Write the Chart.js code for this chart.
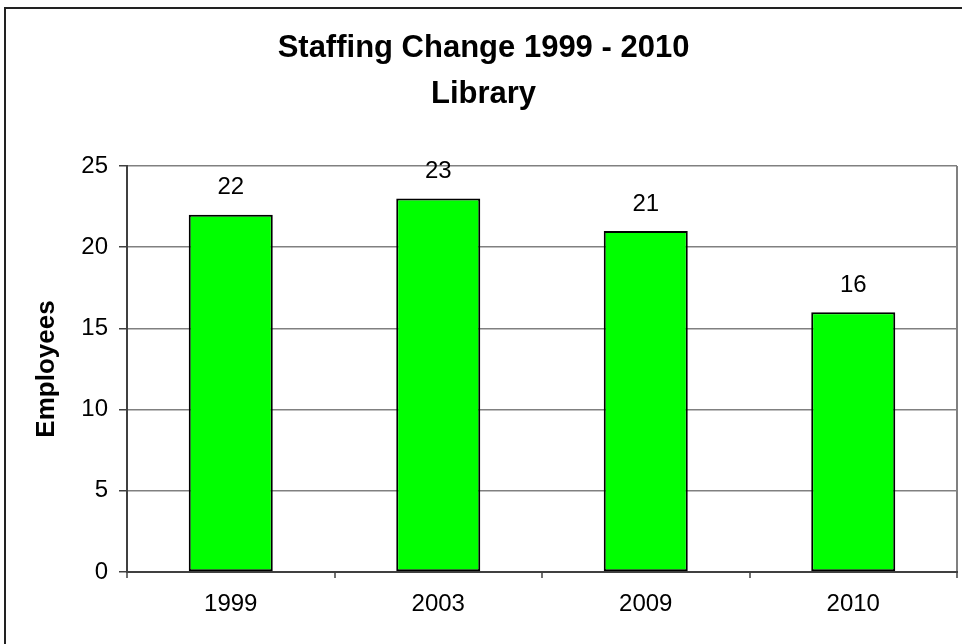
<!DOCTYPE html>
<html>
<head>
<meta charset="utf-8">
<script src="https://cdn.jsdelivr.net/npm/chart.js@4/dist/chart.umd.min.js"></script>
<style>
  html, body { margin: 0; padding: 0; background: #fff; }
  #wrap { width: 962px; height: 644px; position: relative; }
</style>
</head>
<body>
<div id="wrap"><canvas id="graficoEquipe"></canvas></div>
<script>
// anos e numero de funcionarios da biblioteca
var anos = ['1999', '2003', '2009', '2010'];
var funcionarios = [22, 23, 21, 16];
var titulo = ['Staffing Change 1999 - 2010', 'Library'];
var tituloEixoY = 'Employees';

var fonte = 'Arial, "Liberation Sans", sans-serif';
var cinza = '#808080';

// moldura em volta do grafico
var moldura = {
  id: 'moldura',
  beforeDraw: function (chart) {
    var ctx = chart.ctx;
    ctx.save();
    ctx.fillStyle = '#fff';
    ctx.fillRect(0, 0, chart.width, chart.height);
    ctx.strokeStyle = '#222';
    ctx.lineWidth = 2;
    ctx.strokeRect(5, 8, chart.width + 20, chart.height + 20);
    ctx.restore();
  }
};

// escreve o valor em cima de cada barra
var rotulos = {
  id: 'rotulos',
  afterDatasetsDraw: function (chart) {
    var ctx = chart.ctx;
    var meta = chart.getDatasetMeta(0);
    ctx.save();
    ctx.font = '24px ' + fonte;
    ctx.fillStyle = '#000';
    ctx.textAlign = 'center';
    ctx.textBaseline = 'middle';
    meta.data.forEach(function (barra, i) {
      ctx.fillText(String(funcionarios[i]), barra.x, barra.y - 27);
    });
    ctx.restore();
  }
};

var ctx = document.getElementById('graficoEquipe').getContext('2d');
var chart = new Chart(ctx, {
  type: 'bar',
  data: {
    labels: anos,
    datasets: [{
      label: tituloEixoY,
      data: funcionarios,
      backgroundColor: '#00ff00',
      borderColor: '#000',
      borderWidth: 2,
      borderSkipped: false,
      barPercentage: 0.405,
      categoryPercentage: 1
    }]
  },
  plugins: [moldura, rotulos],
  options: {
    responsive: true,
    maintainAspectRatio: false,
    animation: false,
    layout: { padding: { top: 0, left: 10, right: 5, bottom: 22 } },
    plugins: {
      legend: { display: false },
      tooltip: { enabled: false },
      title: {
        display: true,
        text: titulo,
        color: '#000',
        font: { family: fonte, size: 31, weight: 'bold', lineHeight: 1.5 },
        padding: { top: 25, bottom: 48 }
      }
    },
    scales: {
      x: {
        offset: true,
        afterFit: function (s) { s.height = 50; },
        grid: {
          offset: true,
          drawOnChartArea: true,
          color: function (c) { return c.type === 'tick' ? 'rgba(0,0,0,0)' : cinza; },
          lineWidth: 2,
          tickLength: 6,
          tickColor: '#404040',
          tickWidth: 1.5
        },
        border: { color: '#404040', width: 2 },
        ticks: {
          color: '#000',
          padding: 12,
          font: { family: fonte, size: 24 }
        }
      },
      y: {
        min: 0,
        max: 25,
        afterFit: function (s) { s.width = 117; },
        grid: {
          color: cinza,
          lineWidth: 1.5,
          tickLength: 8,
          tickColor: '#404040'
        },
        border: { color: '#404040', width: 2 },
        ticks: {
          stepSize: 5,
          color: '#000',
          padding: 11,
          font: { family: fonte, size: 24 }
        },
        title: {
          display: true,
          text: tituloEixoY,
          color: '#000',
          font: { family: fonte, size: 26, weight: 'bold', lineHeight: 1.2 },
          padding: { top: 21, bottom: 0 }
        }
      }
    }
  }
});
</script>
</body>
</html>
